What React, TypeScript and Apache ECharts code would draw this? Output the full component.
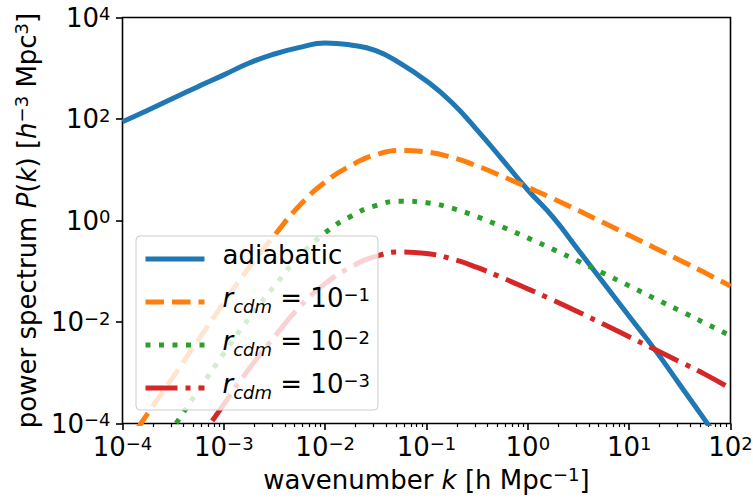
import React, { useEffect, useRef } from "react";
import * as echarts from "echarts";

// wavenumber grid k [h Mpc^-1]
const kValues = [
  1e-4, 1.778e-4, 3.162e-4, 5.623e-4,
  1e-3, 1.778e-3, 3.162e-3, 5.623e-3,
  1e-2, 1.778e-2, 3.162e-2, 5.623e-2,
  0.1, 0.1778, 0.3162, 0.5623,
  1, 1.778, 3.162, 5.623,
  10, 17.78, 31.62, 56.23,
  100,
];

// power spectrum values P(k)
const adiabatic = [
  88.5, 149, 257, 439,
  740, 1270, 1910, 2580,
  3160, 2870, 2220, 1220,
  561, 211, 60.5, 15.7,
  3.99, 1.15, 0.26, 0.058,
  0.013, 0.00292, 0.00058, 0.000115,
  0.000022,
];
const rcdm1 = [
  2.95e-5, 1.58e-4, 8.3e-4, 4.5e-3,
  0.024, 0.12, 0.51, 2.0,
  5.7, 12, 19.7, 24,
  22.4, 17.5, 11.9, 7.4,
  4.5, 2.7, 1.57, 0.9,
  0.51, 0.29, 0.165, 0.093,
  0.051,
];
const rcdm2 = [
  2.95e-6, 1.58e-5, 8.3e-5, 4.53e-4,
  2.4e-3, 0.012, 0.0513, 0.201,
  0.573, 1.2, 1.97, 2.4,
  2.24, 1.75, 1.19, 0.745,
  0.454, 0.27, 0.157, 0.0906,
  0.0515, 0.0293, 0.0167, 0.00948,
  0.0054,
];
const rcdm3 = [
  2.95e-7, 1.58e-6, 8.3e-6, 4.5e-5,
  2.4e-4, 1.2e-3, 5.1e-3, 0.02,
  0.057, 0.12, 0.197, 0.24,
  0.224, 0.175, 0.119, 0.074,
  0.045, 0.027, 0.0157, 0.009,
  0.0051, 0.0029, 0.00165, 0.00093,
  0.00049,
];

const seriesNames = ["adiabatic", "r_cdm = 10^-1", "r_cdm = 10^-2", "r_cdm = 10^-3"];
const legendRich = [
  "{pad| }{t|adiabatic}",
  "{pad| }{i|r}{sub|cdm}{t| = 10}{s|\u22121}",
  "{pad| }{i|r}{sub|cdm}{t| = 10}{s|\u22122}",
  "{pad| }{i|r}{sub|cdm}{t| = 10}{s|\u22123}",
];

const xMajorTicks = [1e-4, 1e-3, 1e-2, 1e-1, 1, 10, 100];
const yMajorTicks = [1e-4, 1e-2, 1, 1e2, 1e4];
const minorMultipliers = [2, 3, 4, 5, 6, 7, 8, 9];
const xMinorDecades = [1e-4, 1e-3, 1e-2, 1e-1, 1, 10];

const FONT = "DejaVu Sans";
const BASE = 26;
const SUP = 18;

function expLabel(v: number) {
  const e = Math.round(Math.log10(v));
  const s = e < 0 ? "\u2212" + -e : String(e);
  return "{b|10}{s|" + s + "}";
}

const tickRich = {
  b: { fontSize: BASE, fontFamily: FONT, color: "#000", lineHeight: BASE, verticalAlign: "bottom" },
  s: { fontSize: SUP, fontFamily: FONT, color: "#000", lineHeight: SUP, verticalAlign: "bottom", padding: [0, 0, 8, 0] },
};

const nameRich = {
  t: { fontSize: BASE, fontFamily: FONT, color: "#000", lineHeight: BASE, verticalAlign: "bottom" },
  i: { fontSize: BASE, fontFamily: FONT, fontStyle: "italic", color: "#000", lineHeight: BASE, verticalAlign: "bottom" },
  s: { fontSize: SUP, fontFamily: FONT, color: "#000", lineHeight: SUP, verticalAlign: "bottom", padding: [0, 0, 9, 0] },
};

const legendTextRich = {
  pad: { width: 13, fontSize: BASE, fontFamily: FONT },
  t: { fontSize: BASE, fontFamily: FONT, color: "#000", lineHeight: BASE, verticalAlign: "bottom", padding: [0, 0, 4, 0] },
  i: { fontSize: BASE, fontFamily: FONT, fontStyle: "italic", color: "#000", lineHeight: BASE, verticalAlign: "bottom", padding: [0, 0, 4, 0] },
  sub: { fontSize: SUP, fontFamily: FONT, fontStyle: "italic", color: "#000", lineHeight: SUP, verticalAlign: "bottom" },
  s: { fontSize: SUP, fontFamily: FONT, color: "#000", lineHeight: SUP, verticalAlign: "bottom", padding: [0, 0, 12, 0] },
};

export default function App() {
  const ref = useRef<HTMLDivElement>(null);

  useEffect(() => {
    if (!ref.current) return;
    const chart = echarts.init(ref.current, undefined, { renderer: "svg" });

    const xMinorTicks: number[] = [];
    xMinorDecades.forEach((d) => minorMultipliers.forEach((m) => xMinorTicks.push(d * m)));

    const toPairs = (vals: number[]) => kValues.map((k, i) => [k, vals[i]]);
    const colors = ["#1f77b4", "#ff7f0e", "#2ca02c", "#d62728"];
    const dashes: any[] = ["solid", [18.5, 8], [5, 8.5], [32, 8, 5, 8]];
    const datasets = [adiabatic, rcdm1, rcdm2, rcdm3];

    const option: any = {
      animation: false,
      backgroundColor: "#fff",
      textStyle: { fontFamily: FONT },
      grid: {
        left: 122.5,
        right: 22.5,
        top: 17.5,
        bottom: 74.5,
        show: true,
        borderColor: "#000",
        borderWidth: 1.6,
        outerBoundsMode: "none",
      },
      legend: {
        orient: "vertical",
        left: 136,
        top: 236,
        padding: [6, 8, 9, 7],
        itemWidth: 59,
        itemHeight: 14,
        itemGap: 13,
        backgroundColor: "rgba(255,255,255,0.8)",
        borderColor: "#cccccc",
        borderWidth: 1,
        borderRadius: 4,
        selectedMode: false,
        itemStyle: { opacity: 0 },
        lineStyle: { width: 5 },
        data: seriesNames,
        formatter: (name: string) => legendRich[seriesNames.indexOf(name)],
        textStyle: { fontFamily: FONT, fontSize: BASE, color: "#000", rich: legendTextRich },
      },
      xAxis: [
        {
          type: "log",
          logBase: 10,
          min: 1e-4,
          max: 100,
          position: "bottom",
          axisLine: { show: false },
          splitLine: { show: false },
          axisTick: { show: true, customValues: xMajorTicks, length: 6.5, lineStyle: { color: "#000", width: 1.6 } },
          axisLabel: { customValues: xMajorTicks, margin: 10.5, formatter: expLabel, rich: tickRich },
          name: "{t|wavenumber }{i|k}{t| [h Mpc}{s|\u22121}{t|]}",
          nameLocation: "middle",
          nameGap: 43,
          nameTextStyle: { rich: nameRich },
        },
        {
          type: "log",
          logBase: 10,
          min: 1e-4,
          max: 100,
          position: "bottom",
          axisLine: { show: false },
          splitLine: { show: false },
          axisTick: { show: true, customValues: xMinorTicks, length: 3.5, lineStyle: { color: "#000", width: 1.2 } },
          axisLabel: { show: false },
        },
      ],
      yAxis: {
        type: "log",
        logBase: 10,
        min: 1e-4,
        max: 1e4,
        axisLine: { show: false },
        splitLine: { show: false },
        axisTick: { show: true, customValues: yMajorTicks, length: 6.5, lineStyle: { color: "#000", width: 1.6 } },
        axisLabel: { customValues: yMajorTicks, margin: 12, formatter: expLabel, rich: tickRich },
        name: "{t|power spectrum }{i|P}{t|(}{i|k}{t|) [}{i|h}{s|\u22123}{t| Mpc}{s|3}{t|]}",
        nameLocation: "middle",
        nameGap: 76,
        nameTextStyle: { rich: nameRich },
      },
      series: datasets.map((vals, i) => ({
        name: seriesNames[i],
        type: "line",
        xAxisIndex: 0,
        data: toPairs(vals),
        smooth: 0.5,
        symbol: "none",
        showSymbol: false,
        clip: true,
        lineStyle: { color: colors[i], width: 5, type: dashes[i], cap: "butt" },
        itemStyle: { color: colors[i] },
      })),
    };

    chart.setOption(option);
    return () => chart.dispose();
  }, []);

  return (
    <div
      ref={ref}
      style={{ position: "absolute", left: 0, top: 0, width: 753, height: 498 }}
    />
  );
}
